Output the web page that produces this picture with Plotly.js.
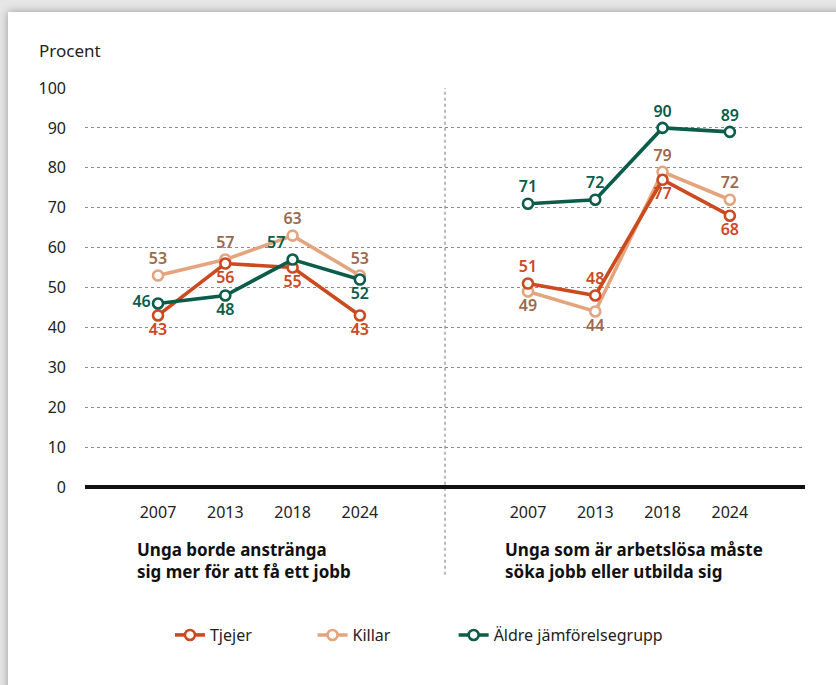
<!DOCTYPE html>
<html>
<head>
<meta charset="utf-8">
<script src="https://cdn.plot.ly/plotly-3.0.1.min.js"></script>
<style>
html,body{margin:0;padding:0;background:#e6e6e6;width:836px;height:685px;overflow:hidden;}
#card{position:absolute;left:8px;top:12px;width:900px;height:760px;background:#fff;box-shadow:0 0 8px rgba(0,0,0,0.35);}
#chart{position:absolute;left:0;top:0;width:836px;height:685px;}
</style>
</head>
<body>
<div id="card"></div>
<div id="chart"></div>
<script>
const years = ['2007', '2013', '2018', '2024'];
const panelTitles = ['<b>Unga borde anstränga<br>sig mer för att få ett jobb</b>', '<b>Unga som är arbetslösa måste<br>söka jobb eller utbilda sig</b>'];
const seriesNames = ['Tjejer', 'Killar', 'Äldre jämförelsegrupp'];
// left panel
const tjejerA = [43, 56, 55, 43];
const killarA = [53, 57, 63, 53];
const aldreA = [46, 48, 57, 52];
// right panel
const tjejerB = [51, 48, 77, 68];
const killarB = [49, 44, 79, 72];
const aldreB = [71, 72, 90, 89];

const lineColors = ['#CC4A1F', '#E4A57E', '#0B5C48'];
const textColors = ['#CC4A1F', '#9A6A4F', '#0B5C48'];

const posA = [
  ['bottom center', 'bottom center', 'bottom center', 'bottom center'],
  ['top center', 'top center', 'top center', 'top center'],
  ['middle left', 'bottom center', 'top left', 'bottom center']
];
const posB = [
  ['top center', 'top center', 'bottom center', 'bottom center'],
  ['bottom center', 'bottom center', 'top center', 'top center'],
  ['top center', 'top center', 'top center', 'top center']
];

const dataA = [tjejerA, killarA, aldreA];
const dataB = [tjejerB, killarB, aldreB];
const traces = [];
function mk(vals, i, pos, xa, ya) {
  return {
    x: years, y: vals, xaxis: xa, yaxis: ya,
    type: 'scatter', mode: 'lines+markers+text',
    name: seriesNames[i], showlegend: false,
    text: vals.map(String), textposition: pos,
    textfont: {family: 'Noto Sans', size: 16, color: textColors[i], weight: 600},
    line: {color: lineColors[i], width: 3.6},
    marker: {symbol: 'circle', size: 10, color: '#ffffff', line: {color: lineColors[i], width: 2.6}},
    cliponaxis: false, hoverinfo: 'skip'
  };
}
[1, 0, 2].forEach(i => traces.push(mk(dataA[i], i, posA[i], 'x', 'y')));
[1, 0, 2].forEach(i => traces.push(mk(dataB[i], i, posB[i], 'x2', 'y2')));
// legend-only traces, one legend box each
const legendIds = ['legend', 'legend2', 'legend3'];
[0, 1, 2].forEach(i => traces.push({
  x: [null], y: [null], type: 'scatter', mode: 'lines+markers', name: seriesNames[i],
  line: {color: lineColors[i], width: 3.6},
  marker: {symbol: 'circle', size: 10, color: '#ffffff', line: {color: lineColors[i], width: 2.6}},
  xaxis: 'x', yaxis: 'y', showlegend: true, legend: legendIds[i], hoverinfo: 'skip'
}));

const tickFont = {family: 'Noto Sans', size: 16, color: '#222'};
const yCommon = {
  range: [0, 100], dtick: 10, tick0: 0, showgrid: true, gridcolor: '#8a8a8a', griddash: 'dot', gridwidth: 1,
  zeroline: true, zerolinecolor: '#111', zerolinewidth: 4, showline: false, ticks: '',
  tickfont: tickFont, fixedrange: true
};
const xCommon = {
  type: 'category', showgrid: false, zeroline: false, showline: false, ticks: '',
  tickfont: tickFont, ticklabelstandoff: 14, fixedrange: true
};
function leg(x) {
  return {orientation: 'h', x: x, xanchor: 'left', y: -0.371, yanchor: 'middle',
    font: {family: 'Noto Sans', size: 16, color: '#222'}, bgcolor: 'rgba(0,0,0,0)'};
}

const layout = {
  width: 836, height: 685,
  paper_bgcolor: 'rgba(0,0,0,0)', plot_bgcolor: 'rgba(0,0,0,0)',
  margin: {l: 85, r: 31, t: 88, b: 198},
  font: {family: 'Noto Sans', color: '#222'},
  xaxis: Object.assign({}, xCommon, {domain: [0, 0.5], range: [-1.085, 4.265], anchor: 'y'}),
  xaxis2: Object.assign({}, xCommon, {domain: [0.5, 1], range: [-1.233, 4.117], anchor: 'y2'}),
  yaxis: Object.assign({}, yCommon, {anchor: 'x', ticklabelstandoff: 18}),
  yaxis2: Object.assign({}, yCommon, {anchor: 'x2', showticklabels: false}),
  showlegend: true,
  legend: leg(0.118),
  legend2: leg(0.316),
  legend3: leg(0.512),
  shapes: [{type: 'line', xref: 'paper', yref: 'paper', x0: 0.5, x1: 0.5, y0: -0.22, y1: 1.0,
    line: {color: '#777', width: 1, dash: 'dot'}, layer: 'below'}],
  annotations: [
    {text: 'Procent', xref: 'paper', yref: 'paper', x: -0.0667, y: 1.095, xanchor: 'left', yanchor: 'middle',
      showarrow: false, font: {family: 'Noto Sans', size: 17, color: '#222'}},
    {text: panelTitles[0], xref: 'paper', yref: 'paper', x: 0.0694, y: -0.122, xanchor: 'left', yanchor: 'top',
      align: 'left', showarrow: false, font: {family: 'Noto Sans', size: 17, color: '#111'}},
    {text: panelTitles[1], xref: 'paper', yref: 'paper', x: 0.5806, y: -0.122, xanchor: 'left', yanchor: 'top',
      align: 'left', showarrow: false, font: {family: 'Noto Sans', size: 17, color: '#111'}}
  ]
};
Plotly.newPlot('chart', traces, layout, {displayModeBar: false, staticPlot: true});
</script>
</body>
</html>
